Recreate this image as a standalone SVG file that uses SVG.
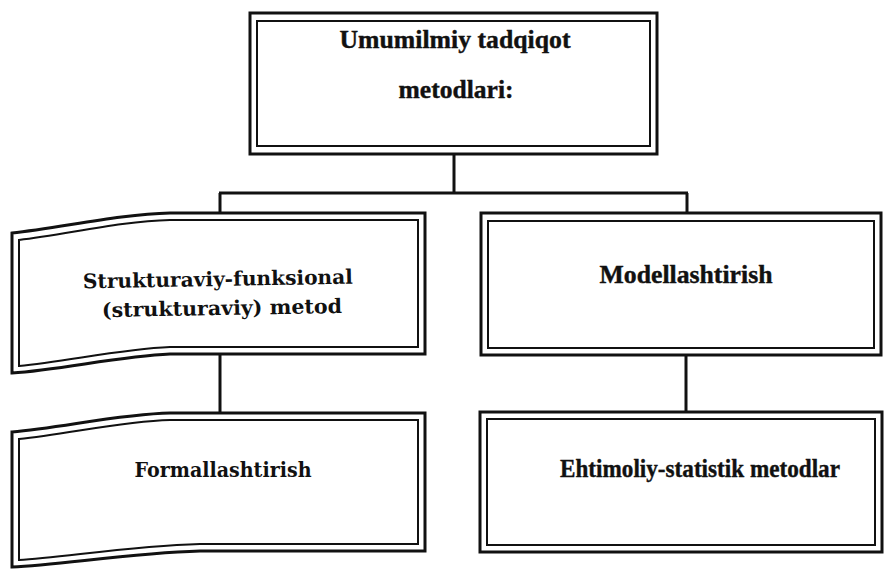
<svg xmlns="http://www.w3.org/2000/svg" width="888" height="570" viewBox="0 0 888 570">
<style>
.outer{fill:none;stroke:#111;stroke-width:3;stroke-linejoin:miter}
.inner{fill:none;stroke:#111;stroke-width:2;stroke-linejoin:miter}
.conn{fill:none;stroke:#111;stroke-width:3}
.t{font-family:'Liberation Serif','Times New Roman',serif;font-weight:700;font-size:25px;fill:#111;stroke:#111;stroke-width:0.4;text-anchor:middle}
.s{font-family:'DejaVu Serif',serif;font-weight:700;font-size:20px;fill:#111;text-anchor:middle}
</style>
<rect width="888" height="570" fill="#ffffff"/>
<g id="connectors">
<line class="conn" x1="454" y1="154" x2="454" y2="193"/>
<line class="conn" x1="219" y1="193" x2="688" y2="193"/>
<line class="conn" x1="220" y1="193" x2="220" y2="213"/>
<line class="conn" x1="687" y1="193" x2="687" y2="213"/>
<line class="conn" x1="220" y1="354" x2="220" y2="413"/>
<line class="conn" x1="686" y1="355" x2="686" y2="412"/>
</g>
<g id="node-root">
<rect class="outer" x="250" y="13" width="407" height="141"/>
<rect class="inner" x="257" y="21" width="393" height="125"/>
<text class="t" x="455" y="48" textLength="231" lengthAdjust="spacingAndGlyphs">Umumilmiy tadqiqot</text>
<text class="t" x="456" y="98" textLength="115" lengthAdjust="spacingAndGlyphs">metodlari:</text>
</g>
<g id="node-struktur">
<path class="outer" d="M12,233 C60,228 120,214 170,213 L425,213 L425,354 L170,354 C120,356 60,370 12,373 Z"/>
<path class="inner" d="M19,240 C65,235 120,221 170,220 L418,220 L418,347 L170,347 C120,349 65,362 19,366 Z"/>
<text class="s" x="218" y="286" textLength="270" lengthAdjust="spacingAndGlyphs" transform="rotate(-1 218 286)">Strukturaviy-funksional</text>
<text class="s" x="222" y="315" textLength="240" lengthAdjust="spacingAndGlyphs" transform="rotate(-1 222 315)">(strukturaviy) metod</text>
</g>
<g id="node-model">
<rect class="outer" x="481" y="213" width="400" height="142"/>
<rect class="inner" x="488" y="221" width="386" height="127"/>
<text class="t" x="686" y="283" textLength="173" lengthAdjust="spacingAndGlyphs">Modellashtirish</text>
</g>
<g id="node-formal">
<path class="outer" d="M12,432 C60,428 120,414 170,413 L425,413 L425,551 L200,551 C130,553 60,565 12,567 Z"/>
<path class="inner" d="M19,439 C65,435 120,421 170,420 L418,420 L418,544 L200,544 C130,546 60,558 19,560 Z"/>
<text class="s" x="223" y="477" textLength="177" lengthAdjust="spacingAndGlyphs">Formallashtirish</text>
</g>
<g id="node-ehtimol">
<rect class="outer" x="480" y="412" width="402" height="140"/>
<rect class="inner" x="487" y="419" width="388" height="126"/>
<text class="t" x="700" y="477" font-size="24" textLength="280" lengthAdjust="spacingAndGlyphs">Ehtimoliy-statistik metodlar</text>
</g>
</svg>
